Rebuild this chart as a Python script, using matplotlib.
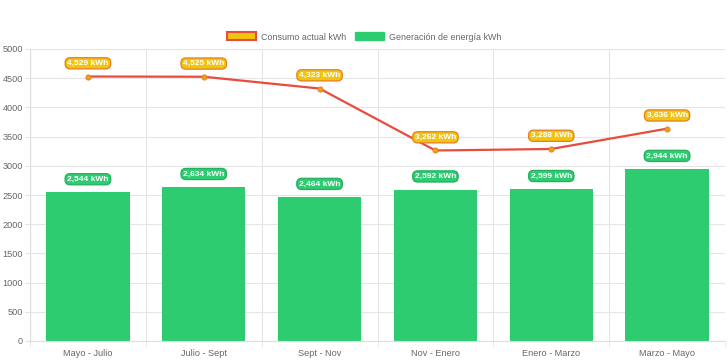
import matplotlib.pyplot as plt
from matplotlib.patches import Patch

periodos = ["Mayo - Julio", "Julio - Sept", "Sept - Nov", "Nov - Enero", "Enero - Marzo", "Marzo - Mayo"]
consumo = [4529, 4525, 4323, 3262, 3288, 3636]
generacion = [2544, 2634, 2464, 2592, 2599, 2944]

plt.rcParams["font.family"] = ["Liberation Sans", "DejaVu Sans"]

fig = plt.figure(figsize=(7.28, 3.63), dpi=100)
ax = fig.add_axes([30 / 728, 1 - 341 / 363, 695 / 728, 292 / 363])

x = range(len(periodos))
ax.bar(x, generacion, width=0.72, color="#2ecc71", zorder=2)
ax.plot(x, consumo, color="#e74c3c", lw=1.6, zorder=3)
ax.scatter(x, consumo, s=14, color="#f39c12", edgecolor="#e67e22", lw=0.6, zorder=4)

def etiqueta(xi, yi, fc, ec):
    ax.annotate(f"{yi:,} kWh", (xi, yi), xytext=(0, 9.5), textcoords="offset points",
                ha="center", va="center", fontsize=6, color="white", fontweight="bold",
                bbox=dict(boxstyle="round,pad=0.25,rounding_size=0.6", fc=fc, ec=ec, lw=0.9),
                zorder=5)

for i, v in enumerate(consumo):
    etiqueta(i, v, "#f1c40f", "#e67e22")
for i, v in enumerate(generacion):
    etiqueta(i, v, "#2ecc71", "#27ae60")

ax.set_xlim(-0.5, len(periodos) - 0.5)
ax.set_ylim(0, 5000)
ax.set_yticks(range(0, 5001, 500))
ax.set_xticks(list(x))
ax.set_xticklabels(periodos)
ax.set_xticks([i - 0.5 for i in range(len(periodos) + 1)], minor=True)
ax.grid(axis="y", color="#e5e5e5", lw=0.8, zorder=0)
ax.grid(axis="x", which="minor", color="#e5e5e5", lw=0.8, zorder=0)
ax.tick_params(axis="both", which="major", labelsize=6.6, colors="#666666", length=0, pad=6)
ax.tick_params(axis="x", which="minor", length=4.5, color="#e5e5e5")
ax.tick_params(axis="y", length=3.5, color="#e5e5e5", pad=1.5)
for s in ["top", "right"]:
    ax.spines[s].set_visible(False)
for s in ["left", "bottom"]:
    ax.spines[s].set_color("#dddddd")

handles = [Patch(fc="#f1c40f", ec="#e74c3c", lw=1.5, label="Consumo actual kWh"),
           Patch(fc="#2ecc71", ec="#2ecc71", label="Generación de energía kWh")]
fig.legend(handles=handles, loc="center", bbox_to_anchor=(0.5, 1 - 37 / 363), ncol=2,
           frameon=False, fontsize=6.4, handlelength=3.3, handleheight=1.0,
           columnspacing=1.0, handletextpad=0.5, labelcolor="#666666")

fig.savefig("out.png", dpi=100)
